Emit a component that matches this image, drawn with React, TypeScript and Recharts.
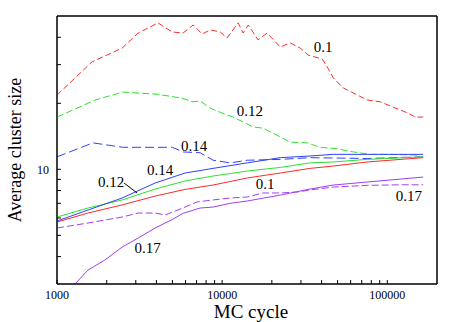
import React from "react";
import {
  LineChart,
  Line,
  XAxis,
  YAxis,
  ReferenceDot,
  ReferenceLine,
  ReferenceArea,
} from "recharts";

const FONT = "'Liberation Serif', 'Times New Roman', serif";

const C = {
  red: "#ff2a2a",
  green: "#2ee02e",
  blue: "#3040ff",
  purple: "#a040f0",
  axis: "#000000",
};

// MC cycle samples (x) and average cluster size (y)
const dash10Cycles = [1000, 1630, 2480, 3100, 4090, 4980, 5800, 6670, 7570, 8460, 9720, 10700, 12500, 13400, 14400, 16500, 18700, 22500, 25800, 29700, 33200, 40400, 43300, 47100, 54100, 62200, 75600, 90700, 108700, 132000, 147800, 165000];
const dash10Size = [21.8, 30.9, 35.7, 41.8, 46.5, 42.3, 41.8, 45.5, 41.4, 43.2, 42.3, 39.7, 46.5, 41.8, 45.5, 38.9, 41.8, 36.1, 37.7, 35.7, 33.2, 31.8, 29.3, 26.1, 23.5, 22.3, 20.7, 20.3, 19.2, 18.1, 17.3, 17.3];

const dash12Cycles = [1000, 1700, 2500, 4030, 5710, 6670, 7360, 8460, 9720, 10700, 11660, 15400, 17700, 21500, 25800, 32700, 39300, 49800, 62200, 78800, 100000, 158000];
const dash12Size = [17.3, 20.7, 22.5, 22.0, 21.1, 20.3, 20.5, 19.0, 18.2, 17.7, 17.3, 15.6, 15.4, 14.3, 13.3, 13.2, 12.6, 12.4, 12.0, 11.7, 11.7, 11.6];

const dash14Cycles = [1000, 1650, 2500, 4640, 5000, 5800, 7360, 8820, 11200, 14200, 22500, 34100, 75600, 165000];
const dash14Size = [11.4, 13.2, 12.6, 12.6, 12.6, 12.0, 11.9, 11.0, 10.7, 11.0, 11.1, 11.3, 11.2, 11.4];

const dash17Cycles = [1000, 1540, 2480, 3100, 3930, 4520, 5970, 7050, 8820, 11200, 14200, 17700, 22500, 28500, 34100, 47100, 75600, 120000, 165000];
const dash17Size = [5.4, 5.69, 6.06, 6.32, 6.32, 6.19, 6.73, 7.1, 7.25, 7.4, 7.48, 7.8, 7.8, 7.88, 8.05, 8.3, 8.45, 8.5, 8.5];

const solidCycles = [1000, 1540, 2480, 3930, 5970, 8820, 14200, 22500, 34100, 47100, 75600, 165000];
const solid14Size = [5.81, 6.52, 7.4, 8.66, 9.62, 10.1, 10.7, 11.3, 11.5, 11.7, 11.7, 11.7];
const solid12Size = [6.06, 6.66, 7.25, 8.13, 8.85, 9.32, 9.82, 10.2, 10.7, 10.8, 11.1, 11.4];
const solid10Size = [5.75, 6.32, 6.88, 7.55, 8.1, 8.48, 9.13, 9.62, 10.1, 10.35, 10.8, 11.3];

const solid17Cycles = [1000, 1285, 1540, 1950, 2480, 3100, 3930, 4980, 5800, 7360, 8820, 11200, 14200, 22500, 34100, 47100, 75600, 165000];
const solid17Size = [2.46, 3.0, 3.47, 3.86, 4.42, 4.86, 5.4, 5.9, 6.3, 6.66, 6.73, 7.0, 7.17, 7.63, 8.13, 8.48, 8.75, 9.22];

const xTicks = [1000, 2000, 3000, 4000, 5000, 6000, 7000, 8000, 9000, 10000, 20000, 30000, 40000, 50000, 60000, 70000, 80000, 90000, 100000];
const xLabeled = [1000, 10000, 100000];
const yTicks = [4, 5, 6, 7, 8, 9, 10, 20, 30, 40];
const yLabeled = [10];

// curve annotations: [text, cycle, size]
const notes: [string, number, number][] = [
  ["0.1", 40900, 36.3],
  ["0.12", 14700, 18.6],
  ["0.14", 6760, 12.8],
  ["0.14", 4210, 9.93],
  ["0.12", 2125, 8.75],
  ["0.1", 18220, 8.57],
  ["0.17", 135000, 7.6],
  ["0.17", 3535, 4.38],
];

const pts = (xs: number[], ys: number[]) => xs.map((c, i) => ({ cycle: c, size: ys[i] }));

const series = [
  { key: "d10", data: pts(dash10Cycles, dash10Size), color: C.red, dash: "6 3" },
  { key: "d12", data: pts(dash12Cycles, dash12Size), color: C.green, dash: "7 3" },
  { key: "d14", data: pts(dash14Cycles, dash14Size), color: C.blue, dash: "9 4" },
  { key: "d17", data: pts(dash17Cycles, dash17Size), color: C.purple, dash: "7 3" },
  { key: "s10", data: pts(solidCycles, solid10Size), color: C.red },
  { key: "s12", data: pts(solidCycles, solid12Size), color: C.green },
  { key: "s14", data: pts(solidCycles, solid14Size), color: C.blue },
  { key: "s17", data: pts(solid17Cycles, solid17Size), color: C.purple },
];

const XTick = ({ x, y, payload }: any) =>
  xLabeled.includes(payload.value) ? (
    <text x={x} y={y} dy="0.71em" textAnchor="middle" fontSize={12} fontFamily={FONT} fill="#000">
      {payload.value}
    </text>
  ) : (
    <g />
  );

const YTick = ({ x, y, payload }: any) =>
  yLabeled.includes(payload.value) ? (
    <text x={x} y={y} dy="0.35em" textAnchor="end" fontSize={12} fontFamily={FONT} fill="#000">
      {payload.value}
    </text>
  ) : (
    <g />
  );

const line = { stroke: C.axis, strokeWidth: 1 };

export default function App() {
  return (
    <div style={{ position: "absolute", left: 0, top: 0, width: 458, height: 322, background: "#fff" }}>
      <LineChart width={458} height={322} margin={{ top: 15, right: 20, bottom: 8, left: 17 }}>
        <XAxis
          dataKey="cycle"
          type="number"
          scale="log"
          domain={[1000, 200000]}
          ticks={xTicks}
          interval={0}
          height={30}
          axisLine={line}
          tickLine={line}
          tickSize={-4}
          tickMargin={10}
          tick={<XTick />}
          allowDataOverflow
          label={{
            content: ({ viewBox }: any) => (
              <text
                x={viewBox.x + viewBox.width / 2 + 4}
                y={viewBox.y + 34}
                textAnchor="middle"
                fontSize={19}
                fontFamily={FONT}
                fill="#000"
              >
                MC cycle
              </text>
            ),
          }}
        />
        <XAxis
          xAxisId="top"
          dataKey="cycle"
          type="number"
          scale="log"
          orientation="top"
          domain={[1000, 200000]}
          ticks={xTicks}
          interval={0}
          height={1}
          axisLine={line}
          tickLine={line}
          tickSize={-4}
          tick={false}
          allowDataOverflow
        />
        <YAxis
          type="number"
          scale="log"
          domain={[3, 50]}
          ticks={yTicks}
          interval={0}
          width={40}
          axisLine={line}
          tickLine={line}
          tickSize={-4}
          tickMargin={12}
          tick={<YTick />}
          allowDataOverflow
          label={{
            content: ({ viewBox }: any) => {
              const cx = viewBox.x - 2;
              const cy = viewBox.y + viewBox.height / 2;
              return (
                <text
                  x={cx}
                  y={cy}
                  transform={`rotate(-90 ${cx} ${cy})`}
                  textAnchor="middle"
                  dominantBaseline="central"
                  fontSize={18}
                  fontFamily={FONT}
                  fill="#000"
                >
                  Average cluster size
                </text>
              );
            },
          }}
        />
        <YAxis
          yAxisId="right"
          orientation="right"
          type="number"
          scale="log"
          domain={[3, 50]}
          ticks={yTicks}
          interval={0}
          width={1}
          axisLine={line}
          tickLine={line}
          tickSize={-4}
          tick={false}
          allowDataOverflow
        />
        <ReferenceArea x1={1000} x2={200000} y1={3} y2={50} fill="none" stroke={C.axis} strokeWidth={1} />
        {series.map((s) => (
          <Line
            key={s.key}
            data={s.data}
            dataKey="size"
            type="linear"
            stroke={s.color}
            strokeWidth={1}
            strokeDasharray={s.dash}
            dot={false}
            activeDot={false}
            isAnimationActive={false}
          />
        ))}
        <ReferenceLine
          segment={[
            { x: 2547, y: 8.66 },
            { x: 3053, y: 7.8 },
          ]}
          stroke="#000"
          strokeWidth={1}
        />
        {notes.map(([t, x, y], i) => (
          <ReferenceDot
            key={i}
            x={x}
            y={y}
            r={0}
            fill="none"
            stroke="none"
            label={{ value: t, position: "center", fontSize: 15, fontFamily: FONT, fill: "#000" }}
          />
        ))}
      </LineChart>
    </div>
  );
}
